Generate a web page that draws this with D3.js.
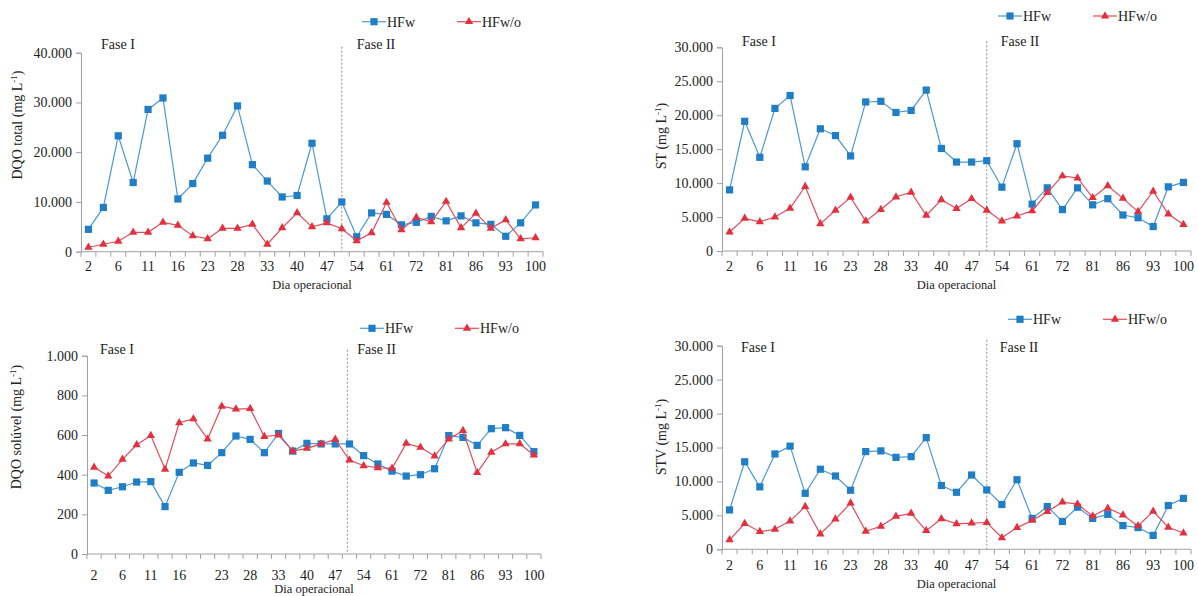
<!DOCTYPE html>
<html>
<head>
<meta charset="utf-8">
<script src="https://cdn.jsdelivr.net/npm/d3@7"></script>
<style>
  body { margin: 0; background: #fff; }
  svg text { font-family: "Liberation Serif", "Times New Roman", serif; fill: #222; }
</style>
</head>
<body>
<svg id="chart" width="1198" height="596"></svg>
<script>
'use strict';

// dias operacionais (only every other one is labelled on the axis)
var diasA = ['2','','6','','11','','16','','23','','28','','33','','40','','47','','54','','61','','72','','81','','86','','93','','100'];
var diasB = ['2','','6','','11','','16','','','23','','28','','33','','40','','47','','54','','61','','72','','81','','86','','93','','100'];

var series = ['HFw', 'HFw/o'];

// DQO total (mg/L)
var dqoTotalHFw  = [4500, 8900, 23300, 13900, 28600, 30900, 10600, 13700, 18800, 23400, 29300, 17500, 14200, 11000, 11300, 21800, 6600, 10000, 3000, 7800, 7500, 5400, 5900, 7100, 6200, 7200, 5800, 5500, 3100, 5800, 9400];
var dqoTotalHFwo = [900, 1500, 2100, 3900, 3900, 5900, 5300, 3200, 2600, 4700, 4700, 5500, 1500, 4800, 7800, 5000, 5800, 4600, 2200, 3800, 9900, 4400, 6900, 6000, 10100, 4800, 7700, 4700, 6400, 2600, 2800];

// ST (mg/L)
var stHFw  = [9000, 19100, 13800, 21000, 22900, 12400, 18000, 17000, 14000, 21950, 22050, 20400, 20700, 23700, 15100, 13100, 13100, 13300, 9400, 15800, 6900, 9300, 6100, 9300, 6800, 7700, 5300, 4900, 3600, 9450, 10100];
var stHFwo = [2800, 4800, 4300, 5000, 6300, 9500, 4000, 6000, 7900, 4400, 6100, 7950, 8650, 5250, 7550, 6250, 7700, 6000, 4400, 5150, 5900, 8600, 11050, 10750, 7850, 9600, 7750, 5800, 8800, 5450, 3900];

// DQO solúvel (mg/L)
var dqoSolHFw  = [358, 321, 339, 363, 365, 239, 412, 459, 447, 511, 595, 578, 511, 608, 519, 558, 555, 555, 555, 496, 454, 418, 393, 400, 430, 597, 588, 548, 632, 637, 598, 516];
var dqoSolHFwo = [437, 393, 477, 551, 597, 427, 662, 681, 580, 745, 731, 733, 592, 600, 519, 533, 555, 578, 474, 445, 435, 432, 558, 538, 494, 580, 622, 410, 513, 555, 556, 499];

// STV (mg/L)
var stvHFw  = [5800, 12900, 9200, 14050, 15200, 8250, 11800, 10800, 8700, 14400, 14500, 13550, 13650, 16450, 9400, 8400, 10950, 8750, 6600, 10250, 4550, 6300, 4100, 6200, 4550, 5150, 3500, 3200, 2050, 6450, 7500];
var stvHFwo = [1400, 3800, 2600, 2950, 4150, 6300, 2250, 4450, 6800, 2650, 3400, 4850, 5300, 2750, 4500, 3750, 3850, 3950, 1700, 3200, 4250, 5550, 6950, 6650, 4900, 6050, 5050, 3450, 5600, 3250, 2400];

var BLUE = '#1f7ec6', BLUE_LINE = '#4b98d6';
var RED = '#e2303f', RED_LINE = '#e6495a';

var fmt = d3.formatLocale({decimal: ',', thousands: '.', grouping: [3], currency: ['', '']}).format(',');

var panels = [
  {labels: diasA, data: [dqoTotalHFw, dqoTotalHFwo], yMax: 40000, yStep: 10000, title: 'DQO total (mg L',
   box: {l: 81, r: 543, t: 52.7, b: 251.7}, fase2: 17, legendX: 362, legendY: 21.7, faseY: 49,
   faseIdx: 20, faseIIdx: 15, xLabelY: 271, xTitleY: 289, yTitleX: 17, yTitleY: 125},
  {labels: diasA, data: [stHFw, stHFwo], yMax: 30000, yStep: 5000, title: 'ST (mg L',
   box: {l: 722, r: 1191, t: 47.3, b: 251}, fase2: 17, legendX: 998, legendY: 16, faseY: 46,
   faseIdx: 20, faseIIdx: 14, xLabelY: 271, xTitleY: 289, yTitleX: 661, yTitleY: 136},
  {labels: diasB, data: [dqoSolHFw, dqoSolHFwo], yMax: 1000, yStep: 200, title: 'DQO solúvel (mg L',
   box: {l: 87, r: 541, t: 355.7, b: 554}, fase2: 17.85, legendX: 360, legendY: 328.3, faseY: 354,
   faseIdx: 13, faseIIdx: 10, xLabelY: 580, xTitleY: 593, yTitleX: 16, yTitleY: 427},
  {labels: diasA, data: [stvHFw, stvHFwo], yMax: 30000, yStep: 5000, title: 'STV (mg L',
   box: {l: 722, r: 1191, t: 345.7, b: 549.3}, fase2: 17, legendX: 1008, legendY: 319.3, faseY: 352,
   faseIdx: 19, faseIIdx: 13, xLabelY: 570, xTitleY: 588, yTitleX: 661, yTitleY: 437}
];

var svg = d3.select('#chart');

function drawMarker(sel, k) {
  if (k === 0) {
    sel.append('rect')
      .attr('x', -3.6).attr('y', -3.6)
      .attr('width', 7.2).attr('height', 7.2)
      .attr('fill', BLUE);
  } else {
    sel.append('path')
      .attr('d', d3.symbol(d3.symbolTriangle, 30)())
      .attr('fill', RED);
  }
}

panels.forEach(function(p) {
  var g = svg.append('g');
  var n = p.labels.length;

  var x = d3.scaleBand()
    .domain(d3.range(n))
    .range([p.box.l, p.box.r]);
  var bw = x.bandwidth();
  var cx = function(i) { return p.box.l + (i + 0.5) * bw; };

  var y = d3.scaleLinear()
    .domain([0, p.yMax])
    .range([p.box.b, p.box.t]);

  // y axis
  var yAxis = g.append('g')
    .attr('transform', 'translate(' + p.box.l + ',0)')
    .call(d3.axisLeft(y).tickValues(d3.range(0, p.yMax + 1, p.yStep)).tickFormat(fmt).tickSize(5).tickPadding(4));
  yAxis.select('.domain').attr('stroke', '#a0a0a0');
  yAxis.selectAll('.tick line').attr('stroke', '#a0a0a0');
  yAxis.selectAll('.tick text').attr('font-size', 14).attr('fill', '#222')
    .attr('font-family', '"Liberation Serif", serif');

  // x axis: line plus tick marks on the band boundaries
  g.append('line')
    .attr('x1', p.box.l).attr('x2', p.box.r)
    .attr('y1', p.box.b).attr('y2', p.box.b)
    .attr('stroke', '#a0a0a0');
  g.selectAll('.xtick')
    .data(d3.range(n + 1))
    .enter().append('line')
    .attr('class', 'xtick')
    .attr('x1', function(i) { return p.box.l + i * bw; })
    .attr('x2', function(i) { return p.box.l + i * bw; })
    .attr('y1', p.box.b).attr('y2', p.box.b + 5)
    .attr('stroke', '#a0a0a0');
  g.selectAll('.xlab')
    .data(p.labels)
    .enter().append('text')
    .attr('class', 'xlab')
    .attr('x', function(d, i) { return cx(i); })
    .attr('y', p.xLabelY)
    .attr('text-anchor', 'middle')
    .attr('font-size', 14)
    .text(function(d) { return d; });

  g.append('text')
    .attr('x', (p.box.l + p.box.r) / 2)
    .attr('y', p.xTitleY)
    .attr('text-anchor', 'middle')
    .attr('font-size', 12.5)
    .text('Dia operacional');

  // y title with superscript
  var yt = g.append('text')
    .attr('transform', 'translate(' + (p.yTitleX + 5) + ',' + p.yTitleY + ') rotate(-90)')
    .attr('text-anchor', 'middle')
    .attr('font-size', 14);
  yt.append('tspan').text(p.title);
  yt.append('tspan').attr('dy', -5).attr('font-size', 9).text('-1');
  yt.append('tspan').attr('dy', 5).text(')');

  // phase divider
  var fx = cx(p.fase2);
  g.append('line')
    .attr('x1', fx).attr('x2', fx)
    .attr('y1', p.box.t - 6).attr('y2', p.box.b)
    .attr('stroke', '#8c8c8c')
    .attr('stroke-dasharray', '2,2');
  g.append('text').attr('x', p.box.l + p.faseIdx).attr('y', p.faseY).attr('font-size', 14).text('Fase I');
  g.append('text').attr('x', fx + p.faseIIdx).attr('y', p.faseY).attr('font-size', 14).text('Fase II');

  // series
  var line = d3.line()
    .x(function(d, i) { return cx(i); })
    .y(function(d) { return y(d); });

  p.data.forEach(function(vals, k) {
    g.append('path')
      .datum(vals)
      .attr('d', line)
      .attr('fill', 'none')
      .attr('stroke', k === 0 ? BLUE_LINE : RED_LINE)
      .attr('stroke-width', 1.2);
    g.selectAll('.m' + k)
      .data(vals)
      .enter().append('g')
      .attr('class', 'm' + k)
      .attr('transform', function(d, i) { return 'translate(' + cx(i) + ',' + y(d) + ')'; })
      .each(function() { drawMarker(d3.select(this), k); });
  });

  // legend
  series.forEach(function(name, k) {
    var lx = p.legendX + k * 95;
    var lg = g.append('g').attr('transform', 'translate(' + lx + ',' + p.legendY + ')');
    lg.append('line').attr('x1', 0).attr('x2', 24).attr('y1', 0).attr('y2', 0)
      .attr('stroke', k === 0 ? BLUE_LINE : RED_LINE).attr('stroke-width', 1.2);
    drawMarker(lg.append('g').attr('transform', 'translate(12,0)'), k);
    lg.append('text').attr('x', 25).attr('y', 5).attr('font-size', 14).text(name);
  });
});
</script>
</body>
</html>
